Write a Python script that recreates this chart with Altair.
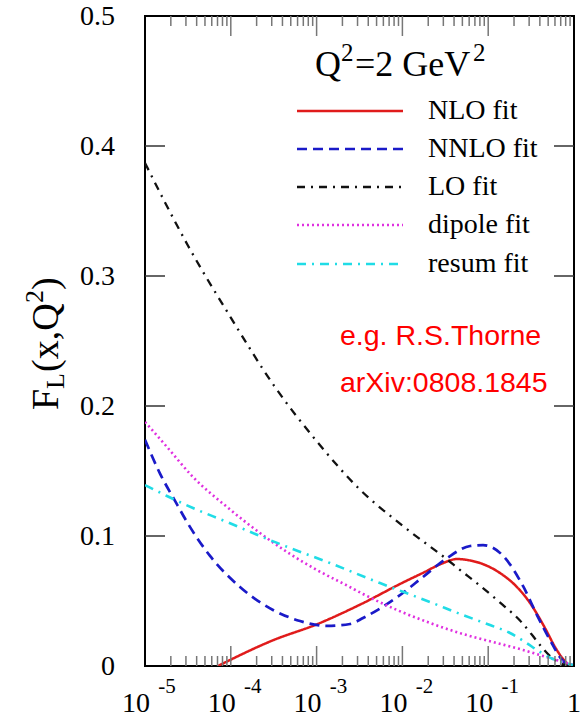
import altair as alt
import pandas as pd

# ---- curve samples: log10(x) and F_L(x, Q^2) at Q^2 = 2 GeV^2 ----
nlo_logx = [-4.15, -3.5, -3.0, -2.5, -2.0, -1.75, -1.55, -1.36, -1.2, -1.096, -0.862, -0.688, -0.513, -0.338, -0.221, -0.128, -0.047]
nlo_fl = [0.0, 0.020, 0.032, 0.047, 0.064, 0.072, 0.0785, 0.0823, 0.081, 0.0792, 0.0715, 0.0623, 0.0485, 0.0292, 0.0146, 0.0054, 0.0]

nnlo_logx = [-5.0, -4.825, -4.65, -4.476, -4.242, -3.893, -3.508, -3.193, -2.879, -2.61, -2.459, -2.06, -1.76, -1.48, -1.21, -1.06, -0.83, -0.59, -0.43, -0.28, -0.13, -0.03]
nnlo_fl = [0.174, 0.148, 0.127, 0.107, 0.0847, 0.0608, 0.0431, 0.0346, 0.0308, 0.0323, 0.0369, 0.053, 0.0685, 0.083, 0.0923, 0.093, 0.085, 0.061, 0.039, 0.020, 0.004, 0.0]

lo_logx = [-5.0, -4.77, -4.5, -4.0, -3.5, -3.0, -2.5, -2.0, -1.5, -1.33, -1.1, -0.83, -0.63, -0.49, -0.37, -0.26, -0.16, -0.05, 0.0]
lo_fl = [0.387, 0.357, 0.3235, 0.268, 0.216, 0.173, 0.136, 0.108, 0.083, 0.074, 0.062, 0.047, 0.035, 0.024, 0.014, 0.0065, 0.0022, 0.0003, 0.0]

dipole_logx = [-5.0, -4.744, -4.441, -4.044, -3.66, -3.345, -2.995, -2.634, -2.459, -2.063, -1.678, -1.294, -0.897, -0.594, -0.361, -0.128, -0.012]
dipole_fl = [0.1877, 0.1685, 0.1454, 0.1223, 0.1023, 0.0877, 0.0738, 0.0615, 0.0554, 0.0431, 0.0331, 0.0246, 0.0177, 0.0123, 0.0077, 0.0031, 0.0008]

resum_logx = [-5.0, -4.744, -4.441, -4.044, -3.66, -3.31, -2.844, -2.261, -1.678, -1.294, -0.979, -0.746, -0.571, -0.396, -0.245, -0.105, -0.012]
resum_fl = [0.1392, 0.1308, 0.1215, 0.1108, 0.100, 0.0908, 0.0792, 0.0638, 0.0492, 0.0392, 0.0315, 0.0254, 0.0185, 0.0108, 0.0054, 0.0023, 0.0008]

series_names = ["NLO fit", "NNLO fit", "LO fit", "dipole fit", "resum fit"]
series_colors = ["#e01b1b", "#1a1ac8", "#111111", "#e030e0", "#20dce6"]
series_dashes = [[1, 0], [10, 6], [8, 6, 2, 6], [2, 3], [9, 6, 2, 6]]
series_widths = [2.5, 2.7, 2.3, 2.6, 2.6]
samples = [(nlo_logx, nlo_fl), (nnlo_logx, nnlo_fl), (lo_logx, lo_fl),
           (dipole_logx, dipole_fl), (resum_logx, resum_fl)]

# axis ticks and labels
decades = [-5, -4, -3, -2, -1, 0]
minor_mult = [2, 3, 4, 5, 6, 7, 8, 9]
y_ticks = [0.1, 0.2, 0.3, 0.4]
y_labels = [0.0, 0.1, 0.2, 0.3, 0.4, 0.5]
y_label_text = ["0", "0.1", "0.2", "0.3", "0.4", "0.5"]
exp_labels = ["-5", "-4", "-3", "-2", "-1"]

W, H = 429, 650
SERIF = "Liberation Serif"

xscale = alt.Scale(type="log", domain=[1e-5, 1], nice=False)
yscale = alt.Scale(domain=[0, 0.5], nice=False, zero=False)
X = alt.X("x:Q", scale=xscale, axis=None)
Y = alt.Y("fl:Q", scale=yscale, axis=None)

layers = []

# curves
for name, (lx, fl), col, dash, sw in zip(series_names, samples, series_colors, series_dashes, series_widths):
    df = pd.DataFrame({"x": [10 ** v for v in lx], "fl": fl, "series": name})
    layers.append(
        alt.Chart(df).mark_line(color=col, strokeDash=dash, strokeWidth=sw,
                                interpolate="monotone", clip=True)
        .encode(x=X, y=Y)
    )

# x ticks (inside the frame, top and bottom)
major_df = pd.DataFrame({"x": [10.0 ** d for d in decades[1:-1]]})
minor_df = pd.DataFrame({"x": [m * 10.0 ** d for d in decades[:-1] for m in minor_mult]})
for tdf, ln in [(major_df, 20), (minor_df, 10)]:
    for y0, y1 in [(H, H - ln), (0, ln)]:
        layers.append(
            alt.Chart(tdf).mark_rule(color="#777777", strokeWidth=1.5)
            .encode(x=X, y=alt.value(y0), y2=alt.value(y1))
        )

# y ticks (inside, left and right)
ytick_df = pd.DataFrame({"fl": y_ticks})
for x0, x1 in [(0, 20), (W - 20, W)]:
    layers.append(
        alt.Chart(ytick_df).mark_rule(color="#333333", strokeWidth=1.5)
        .encode(y=Y, x=alt.value(x0), x2=alt.value(x1))
    )

# y tick labels
ylab_df = pd.DataFrame({"fl": y_labels, "lab": y_label_text})
layers.append(
    alt.Chart(ylab_df).mark_text(font=SERIF, fontSize=28, align="right", baseline="middle",
                                 color="black", dy=1)
    .encode(y=Y, x=alt.value(-30), text="lab:N")
)

# x tick labels: 10 with superscript exponent, and 1
xlab_df = pd.DataFrame({"x": [10.0 ** d for d in decades[:-1]], "exp": exp_labels})
layers.append(
    alt.Chart(xlab_df).mark_text(font=SERIF, fontSize=28, align="center", baseline="alphabetic",
                                 dx=-9, color="black", text="10")
    .encode(x=X, y=alt.value(H + 46))
)
layers.append(
    alt.Chart(xlab_df).mark_text(font=SERIF, fontSize=21, align="center", baseline="alphabetic",
                                 dx=22, color="black")
    .encode(x=X, y=alt.value(H + 27), text="exp:N")
)
layers.append(
    alt.Chart(pd.DataFrame({"x": [1.0]})).mark_text(font=SERIF, fontSize=28, align="center",
                                                     baseline="alphabetic", color="black", text="1")
    .encode(x=X, y=alt.value(H + 46))
)

# y axis title F_L(x,Q^2), rotated
def rot_text(txt, x, y, size):
    return alt.Chart(pd.DataFrame({"t": [txt]})).mark_text(
        font=SERIF, fontSize=size, angle=270, align="left", baseline="alphabetic", color="black"
    ).encode(x=alt.value(x), y=alt.value(y), text="t:N")

layers += [
    rot_text("F", -87, 394, 38),
    rot_text("L", -81, 373, 26),
    rot_text("(x,Q", -87, 356, 38),
    rot_text("2", -102, 287, 26),
    rot_text(")", -87, 274, 38),
]

# legend
def plain_text(txt, x, y, size, font=SERIF, color="black"):
    return alt.Chart(pd.DataFrame({"t": [txt]})).mark_text(
        font=font, fontSize=size, align="left", baseline="alphabetic", color=color
    ).encode(x=alt.value(x), y=alt.value(y), text="t:N")

layers += [
    plain_text("Q", 170, 60, 36),
    plain_text("2", 196, 45, 25),
    plain_text("=2 GeV", 210, 60, 36),
    plain_text("2", 328, 45, 25),
]
row_y = [95, 133, 171, 209, 248]
for name, col, dash, sw, ry in zip(series_names, series_colors, series_dashes, series_widths, row_y):
    layers.append(
        alt.Chart(pd.DataFrame({"s": [name]})).mark_rule(color=col, strokeDash=dash, strokeWidth=sw)
        .encode(x=alt.value(152), x2=alt.value(258), y=alt.value(ry))
    )
    layers.append(plain_text(name, 283, ry + 8, 28))

# reference note
layers += [
    plain_text("e.g. R.S.Thorne", 195, 329, 28.5, font="Liberation Sans", color="#ff0000"),
    plain_text("arXiv:0808.1845", 195, 376, 28.5, font="Liberation Sans", color="#ff0000"),
]

chart = alt.layer(*layers).properties(
    width=W, height=H,
    background="white",
    autosize=alt.AutoSizeParams(type="none"),
    padding={"left": 145, "top": 16, "right": 7, "bottom": 51},
).configure_view(stroke="black", strokeWidth=2)

chart.save("out.html", embed_options={"renderer": "svg", "actions": False})
